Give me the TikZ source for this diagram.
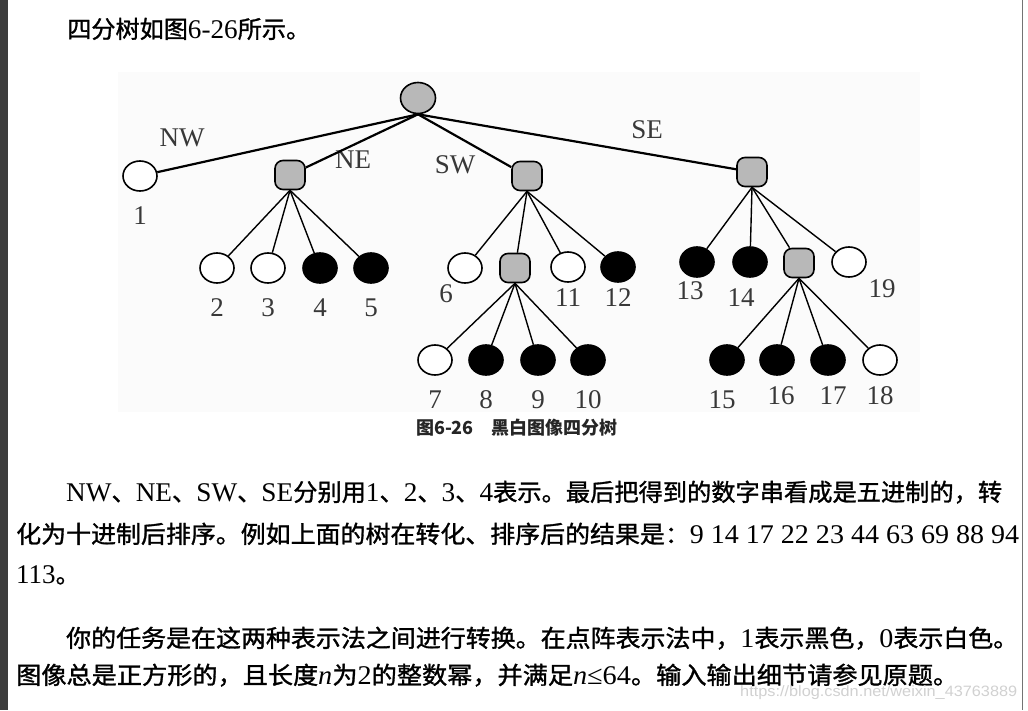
\documentclass[tikz,border=0pt]{standalone}
\usepackage{fontspec}
\usepackage{graphicx}
\setmainfont{Liberation Serif}
\newfontfamily\cjk[Scale=0.89,FakeBold=1.2]{Noto Sans CJK SC}
\newfontfamily\capfont{Noto Sans CJK SC}
\newfontfamily\wmfont{Liberation Sans}
\newcommand\zh[1]{{\cjk #1}}
\usetikzlibrary{shapes.geometric}
\tikzset{
 quad/.style={draw,ellipse,line width=1.6pt,minimum width=34pt,minimum height=30pt,inner sep=0pt},
 whiteleaf/.style={quad,fill=white},
 blackleaf/.style={quad,fill=black},
 greynode/.style={draw,rectangle,rounded corners=8pt,line width=1.6pt,fill=black!28,minimum width=30pt,minimum height=29pt,inner sep=0pt},
 rootlink/.style={line width=2.2pt},
 link/.style={line width=1.4pt},
 num/.style={font=\fontsize{27}{27}\selectfont,text=black!78,inner sep=0pt,yshift=-15pt},
 elab/.style={font=\fontsize{27}{27}\selectfont,text=black!78,inner sep=0pt},
 para/.style={anchor=base west,inner sep=0pt,font=\fontsize{27}{27}\selectfont}
}

\begin{document}
\begin{tikzpicture}[x=1pt,y=-1pt]
\useasboundingbox (0,0) rectangle (1028,710);
\fill[white] (0,0) rectangle (1028,710);
\fill[black!76] (0,0) rectangle (7.5,710);
\draw[black!55,line width=1pt] (1022.5,0) -- (1022.5,710);
\fill[black!1.5] (118,72) rectangle (920,412);

% text above the tree
\node[para] (intro) at (67,38) {\resizebox{243pt}{\height}{\zh{四分树如图}6-26\zh{所示。}}};

% the tree
\node[quad,fill=black!28,minimum width=35pt,minimum height=31pt] (root) at (418,98) {};
\node[whiteleaf,label={[num]below:1}] (n1) at (140,176) {};
\node[greynode] (ne) at (290,175) {};
\node[greynode] (sw) at (527,176) {};
\node[greynode] (se) at (752,172) {};
\node[elab] (lnw) at (182,138) {NW};
\node[elab] (lne) at (353,160) {NE};
\node[elab] (lsw) at (455,165) {SW};
\node[elab] (lse) at (647,130) {SE};
\draw[rootlink] (root.south) -- (n1);
\draw[rootlink] (root.south) -- (ne);
\draw[rootlink] (root.south) -- (sw);
\draw[rootlink] (root.south) -- (se);

\node[whiteleaf,label={[num]below:2}] (n2) at (217,268) {};
\node[whiteleaf,label={[num]below:3}] (n3) at (268,268) {};
\node[blackleaf,label={[num]below:4}] (n4) at (320,268) {};
\node[blackleaf,label={[num]below:5}] (n5) at (371,268) {};
\foreach \c in {n2,n3,n4,n5} \draw[link] (ne.south) -- (\c);

\node[whiteleaf,label={[num,xshift=-19pt,yshift=14pt]below:6}] (n6) at (465,268) {};
\node[greynode] (swse) at (515,268) {};
\node[whiteleaf,label={[num,yshift=9pt]below:11}] (n11) at (568,267) {};
\node[blackleaf,label={[num,yshift=9pt]below:12}] (n12) at (618,267) {};
\foreach \c in {n6,swse,n11,n12} \draw[link] (sw.south) -- (\c);

\node[whiteleaf,label={[num]below:7}] (n7) at (435,360) {};
\node[blackleaf,label={[num]below:8}] (n8) at (486,360) {};
\node[blackleaf,label={[num]below:9}] (n9) at (538,360) {};
\node[blackleaf,label={[num]below:10}] (n10) at (588,360) {};
\foreach \c in {n7,n8,n9,n10} \draw[link] (swse.south) -- (\c);

\node[blackleaf,label={[num,xshift=-7pt,yshift=11pt]below:13}] (n13) at (697,262) {};
\node[blackleaf,label={[num,xshift=-9pt,yshift=4pt]below:14}] (n14) at (750,262) {};
\node[greynode] (sese) at (799,263) {};
\node[whiteleaf,label={[num,xshift=33pt,yshift=13pt]below:19}] (n19) at (849,262) {};
\foreach \c in {n13,n14,sese,n19} \draw[link] (se.south) -- (\c);

\node[blackleaf,label={[num,xshift=-5pt]below:15}] (n15) at (727,360) {};
\node[blackleaf,label={[num,xshift=4pt,yshift=4pt]below:16}] (n16) at (777,360) {};
\node[blackleaf,label={[num,xshift=5pt,yshift=4pt]below:17}] (n17) at (828,360) {};
\node[whiteleaf,label={[num,yshift=4pt]below:18}] (n18) at (880,360) {};
\foreach \c in {n15,n16,n17,n18} \draw[link] (sese.south) -- (\c);

\node[font=\capfont\fontsize{18}{18}\selectfont\bfseries,text=black!85,anchor=base] (cap) at (517,434) {图6-26　黑白图像四分树};

% text below the tree
\node[para] (p1) at (66,501) {\resizebox{936pt}{\height}{NW\zh{、}NE\zh{、}SW\zh{、}SE\zh{分别用}1\zh{、}2\zh{、}3\zh{、}4\zh{表示。最后把得到的数字串看成是五进制的，转}}};
\node[para] (p2) at (16,543) {\resizebox{1003pt}{\height}{\zh{化为十进制后排序。例如上面的树在转化、排序后的结果是：}9 14 17 22 23 44 63 69 88 94}};
\node[para] (p3) at (16,583) {113\zh{。}};
\node[para] (p4) at (66,647) {\resizebox{952pt}{\height}{\zh{你的任务是在这两种表示法之间进行转换。在点阵表示法中，}1\zh{表示黑色，}0\zh{表示白色。}}};
\node[para] (p5) at (16,684) {\resizebox{942pt}{\height}{\zh{图像总是正方形的，且长度}\textit{n}\zh{为}2\zh{的整数幂，并满足}\textit{n}≤64\zh{。输入输出细节请参见原题。}}};
\node[anchor=base west,inner sep=0pt,text=black!18] (wm) at (740,696) {\resizebox{277pt}{\height}{\wmfont\fontsize{15}{15}\selectfont https://blog.csdn.net/weixin\_43763889}};
\end{tikzpicture}
\end{document}
